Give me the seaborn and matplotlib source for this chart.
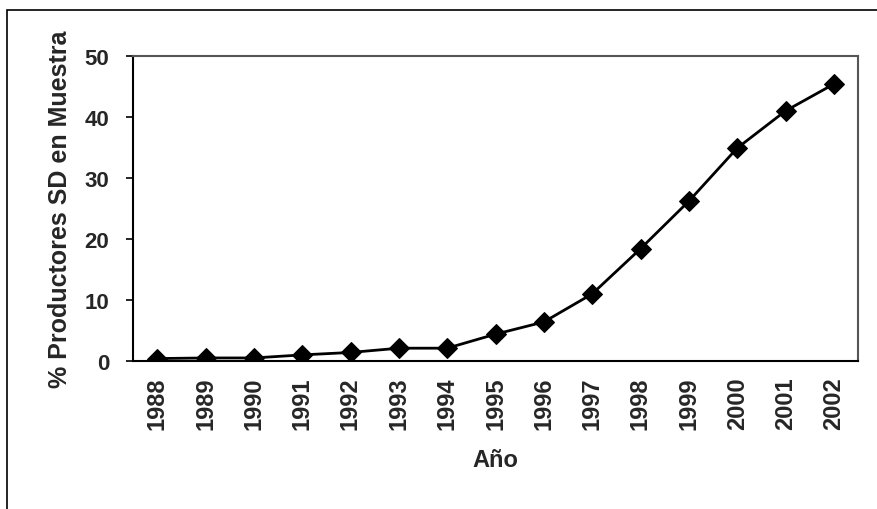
import matplotlib
matplotlib.use("Agg")
import matplotlib.pyplot as plt
import seaborn as sns
import pandas as pd
import numpy as np
from matplotlib.patches import Rectangle

years = [1988, 1989, 1990, 1991, 1992, 1993, 1994, 1995,
         1996, 1997, 1998, 1999, 2000, 2001, 2002]
pct_sd = [0.4, 0.5, 0.5, 1.0, 1.4, 2.1, 2.1, 4.4,
          6.4, 11.0, 18.4, 26.2, 34.9, 41.0, 45.4]
y_ticks = [0, 10, 20, 30, 40, 50]

sns.set_style("white")
plt.rcParams['font.family'] = ['Liberation Sans', 'DejaVu Sans']

df = pd.DataFrame({"Año": years, "pct": pct_sd})

fig = plt.figure(figsize=(8.77, 5.10), dpi=100)
ax = fig.add_axes([133 / 877, 1 - 362 / 510, 725 / 877, 305 / 510])

sns.lineplot(data=df, x="Año", y="pct", ax=ax, color="black", linewidth=2,
             marker="D", markersize=10, markeredgecolor="black",
             markerfacecolor="black")

ax.set_xlim(years[0] - 0.5, years[-1] + 0.5)
ax.set_ylim(0, 50)
ax.set_yticks(y_ticks)
ax.set_yticklabels([str(v) for v in y_ticks], fontsize=16, fontweight="bold")
ax.set_xticks(years)
ax.set_xticklabels([str(y) for y in years], rotation=90, fontsize=17,
                   fontweight="bold")
ax.set_xticks(np.arange(years[0] - 0.5, years[-1] + 1.0, 1.0), minor=True)
ax.tick_params(axis="x", which="major", length=0, pad=11)
ax.tick_params(axis="x", which="minor", length=5, width=1.2, color="black",
               direction="out")
ax.tick_params(axis="y", which="major", length=5, width=1.2, color="black",
               direction="out", left=True, pad=12)

ax.set_xlabel("Año", fontsize=17, fontweight="bold", labelpad=14)
ax.set_ylabel("% Productores SD en Muestra", fontsize=18, fontweight="bold",
              labelpad=9)

for side in ["left", "bottom"]:
    ax.spines[side].set_color("black")
    ax.spines[side].set_linewidth(1.5)
for side in ["top", "right"]:
    ax.spines[side].set_color("#555555")
    ax.spines[side].set_linewidth(1.5)

# outer chart frame
fig.patches.append(Rectangle((7 / 877, -0.02), 1.05, 1 - 11 / 510 + 0.02,
                             transform=fig.transFigure, fill=False,
                             edgecolor="black", linewidth=1.2))

fig.savefig("out.png", dpi=100)
plt.close(fig)
